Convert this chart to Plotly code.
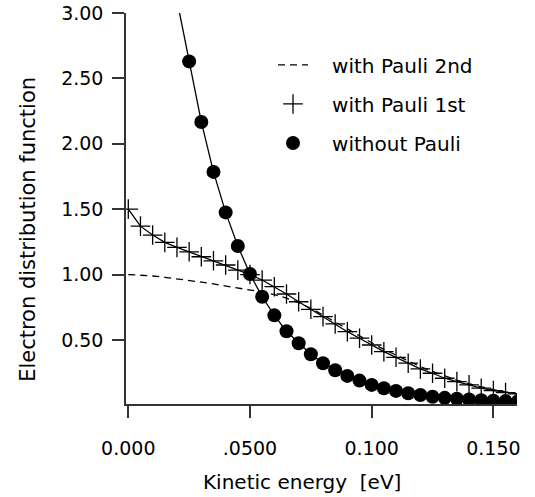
import plotly.graph_objects as go

# ---- data ----
energy = [0.000, 0.005, 0.010, 0.015, 0.020, 0.025, 0.030, 0.035, 0.040, 0.045,
          0.050, 0.055, 0.060, 0.065, 0.070, 0.075, 0.080, 0.085, 0.090, 0.095,
          0.100, 0.105, 0.110, 0.115, 0.120, 0.125, 0.130, 0.135, 0.140, 0.145,
          0.150, 0.155, 0.160]

pauli_2nd = [1.000, 0.996, 0.989, 0.979, 0.968, 0.955, 0.942, 0.928, 0.913, 0.898,
             0.884, 0.866, 0.846, 0.820, 0.785, 0.742, 0.690, 0.636, 0.582, 0.530,
             0.478, 0.428, 0.382, 0.338, 0.296, 0.259, 0.224, 0.193, 0.165, 0.141,
             0.119, 0.102, 0.088]

pauli_1st = [1.500, 1.370, 1.302, 1.246, 1.208, 1.174, 1.136, 1.105, 1.073, 1.034,
             1.000, 0.958, 0.907, 0.851, 0.792, 0.734, 0.678, 0.622, 0.563, 0.513,
             0.461, 0.410, 0.367, 0.322, 0.278, 0.245, 0.207, 0.181, 0.156, 0.131,
             0.112, 0.097, 0.087]

energy_np = [0.020, 0.025, 0.030, 0.035, 0.040, 0.045, 0.050, 0.055, 0.060, 0.065,
             0.070, 0.075, 0.080, 0.085, 0.090, 0.095, 0.100, 0.105, 0.110, 0.115,
             0.120, 0.125, 0.130, 0.135, 0.140, 0.145, 0.150, 0.155, 0.160]
no_pauli = [3.100, 2.630, 2.167, 1.785, 1.475, 1.218, 1.004, 0.830, 0.688, 0.566,
            0.474, 0.390, 0.322, 0.268, 0.225, 0.189, 0.156, 0.131, 0.110, 0.092,
            0.079, 0.066, 0.057, 0.050, 0.044, 0.039, 0.035, 0.032, 0.029]

x_tickvals = [0.0, 0.05, 0.10, 0.15]
x_ticktext = ["0.000", ".0500", "0.100", "0.150"]
y_tickvals = [0.5, 1.0, 1.5, 2.0, 2.5, 3.0]
y_ticktext = ["0.50", "1.00", "1.50", "2.00", "2.50", "3.00"]

names = ["\u00a0\u00a0\u00a0with Pauli 2nd", "\u00a0\u00a0\u00a0with Pauli 1st", "\u00a0\u00a0\u00a0without Pauli"]

FONT = "DejaVu Sans"
INK = "black"

fig = go.Figure()

# solid connecting lines (no legend)
fig.add_trace(go.Scatter(x=energy, y=pauli_1st, mode="lines",
                         line=dict(color=INK, width=1.3), showlegend=False, hoverinfo="skip"))
fig.add_trace(go.Scatter(x=energy_np, y=no_pauli, mode="lines",
                         line=dict(color=INK, width=1.3), showlegend=False, hoverinfo="skip"))

# legend traces
fig.add_trace(go.Scatter(x=energy, y=pauli_2nd, mode="lines", name=names[0], legendgroup="a",
                         line=dict(color=INK, width=1.3, dash="7px,5px")))
fig.add_trace(go.Scatter(x=energy, y=pauli_1st, mode="markers", name=names[1], legendgroup="b",
                         marker=dict(symbol="cross-thin", size=14,
                                     line=dict(width=1.3, color=INK), color=INK)))
fig.add_trace(go.Scatter(x=energy_np, y=no_pauli, mode="markers", name=names[2], legendgroup="c",
                         marker=dict(symbol="circle", size=14, color=INK)))

axis_common = dict(
    showline=True, linecolor="#333", linewidth=1.5,
    ticks="outside", ticklen=12, tickwidth=1.5, tickcolor="#333",
    showgrid=False, zeroline=False, automargin=False,
    tickfont=dict(family=FONT, size=19, color=INK),
)

fig.update_layout(
    width=535, height=497,
    margin=dict(l=126, r=18, t=13, b=93, autoexpand=False),
    paper_bgcolor="white", plot_bgcolor="white",
    font=dict(family=FONT, color=INK),
    xaxis=dict(range=[-0.00094, 0.1597], tickvals=x_tickvals, ticktext=x_ticktext,
               ticklabelstandoff=14, **axis_common),
    yaxis=dict(range=[0.01, 3.0], tickvals=y_tickvals, ticktext=y_ticktext,
               ticklabelstandoff=5, **axis_common),
    legend=dict(x=0.376, y=0.917, xanchor="left", yanchor="top",
                font=dict(family=FONT, size=20, color=INK),
                bgcolor="rgba(0,0,0,0)", tracegroupgap=10, traceorder="grouped"),
    annotations=[
        dict(text="Kinetic energy\u00a0 [eV]", xref="paper", yref="paper",
             x=0.450, y=-0.199, xanchor="center", yanchor="middle", showarrow=False,
             font=dict(family=FONT, size=20, color=INK)),
        dict(text="Electron distribution function", xref="paper", yref="paper",
             x=-0.249, y=0.447, xanchor="center", yanchor="middle", showarrow=False,
             textangle=-90, font=dict(family=FONT, size=21, color=INK)),
    ],
)

fig.write_html("out.html")
